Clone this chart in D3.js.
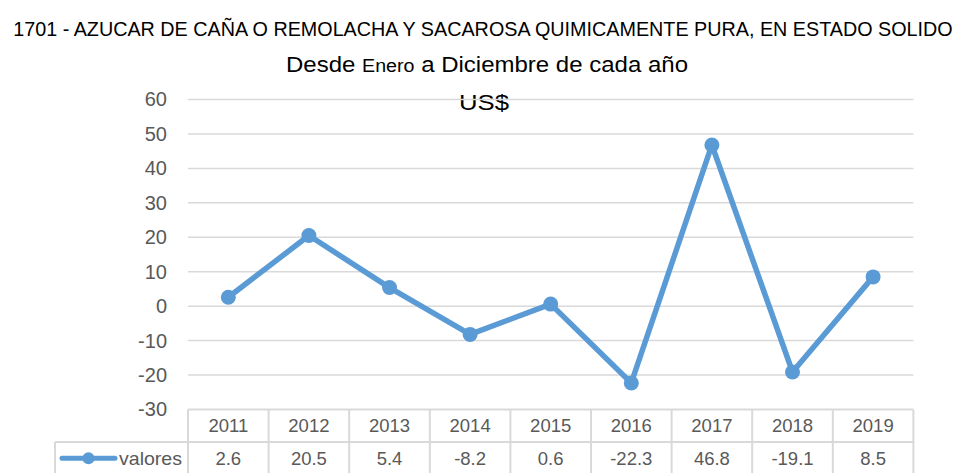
<html>
<head>
<meta charset="utf-8">
<title>1701 - AZUCAR</title>
<script src="https://d3js.org/d3.v7.min.js"></script>
<style>
	body { margin: 0; background: #fff; }
	svg text { font-family: "Liberation Sans", sans-serif; }
</style>
</head>
<body>
<div id="chart"></div>
<script>
const years = ["2011","2012","2013","2014","2015","2016","2017","2018","2019"];
const valores = [2.6, 20.5, 5.4, -8.2, 0.6, -22.3, 46.8, -19.1, 8.5];
const valueLabels = ["2.6","20.5","5.4","-8.2","0.6","-22.3","46.8","-19.1","8.5"];
const yTicks = [-30,-20,-10,0,10,20,30,40,50,60];
const seriesName = "valores";

const width = 964, height = 473;
const blue = "#5b9bd5", grid = "#d9d9d9", txt = "#595959";

const svg = d3.select("#chart").append("svg")
	.attr("width", width)
	.attr("height", height);

const x = d3.scaleBand().domain(years).range([188, 913.4]);
const y = d3.scaleLinear().domain([-30, 60]).range([409.5, 99.5]);

// titles
const title = svg.append("text")
	.attr("x", 483).attr("y", 36)
	.attr("text-anchor", "middle")
	.style("font-size", "21px").style("fill", "#000")
	.text("1701 - AZUCAR DE CAÑA O REMOLACHA Y SACAROSA QUIMICAMENTE PURA, EN ESTADO SOLIDO");
// shrink to fit inside the page width
const tw = title.node().getComputedTextLength();
if (tw > 940) title.style("font-size", (21 * 940 / tw).toFixed(2) + "px");

const sub = svg.append("text")
	.attr("x", 487).attr("y", 72)
	.attr("text-anchor", "middle")
	.attr("textLength", 402).attr("lengthAdjust", "spacingAndGlyphs")
	.style("font-size", "22px").style("fill", "#000");
sub.append("tspan").text("Desde ");
sub.append("tspan").style("font-size", "18px").text("Enero");
sub.append("tspan").text(" a Diciembre de cada año");

svg.append("text")
	.attr("x", 484).attr("y", 110)
	.attr("text-anchor", "middle")
	.attr("textLength", 50).attr("lengthAdjust", "spacingAndGlyphs")
	.style("font-size", "22px").style("fill", "#000")
	.text("US$");

// gridlines
svg.append("g").selectAll("line")
	.data(yTicks.filter(d => d > -30))
	.join("line")
	.attr("x1", 188).attr("x2", 913.4)
	.attr("y1", d => y(d)).attr("y2", d => y(d))
	.attr("stroke", grid).attr("stroke-width", 1.5);

// y axis labels
const yAxis = svg.append("g")
	.attr("transform", "translate(175,0)")
	.call(d3.axisLeft(y).tickValues(yTicks).tickFormat(d => String(d)).tickSize(0).tickPadding(8));
yAxis.select(".domain").remove();
yAxis.selectAll("text")
	.style("font-family", "\"Liberation Sans\", sans-serif")
	.style("font-size", "20px").style("fill", txt);

// line + markers
const line = d3.line()
	.x((d, i) => x(years[i]) + x.bandwidth() / 2)
	.y(d => y(d));

svg.append("path")
	.datum(valores)
	.attr("d", line)
	.attr("fill", "none")
	.attr("stroke", blue)
	.attr("stroke-width", 5.5)
	.attr("stroke-linejoin", "round");

svg.append("g").selectAll("circle")
	.data(valores)
	.join("circle")
	.attr("cx", (d, i) => x(years[i]) + x.bandwidth() / 2)
	.attr("cy", d => y(d))
	.attr("r", 7.5)
	.attr("fill", blue);

// data table
const rowTop = 409.5, rowH = 32.5, legendLeft = 55;
const table = svg.append("g");

table.append("line")
	.attr("x1", 188).attr("x2", 913.4).attr("y1", rowTop).attr("y2", rowTop)
	.attr("stroke", grid).attr("stroke-width", 2);
table.append("line")
	.attr("x1", legendLeft).attr("x2", 913.4).attr("y1", rowTop + rowH).attr("y2", rowTop + rowH)
	.attr("stroke", grid).attr("stroke-width", 2);
table.append("line")
	.attr("x1", legendLeft).attr("x2", legendLeft).attr("y1", rowTop + rowH).attr("y2", height)
	.attr("stroke", grid).attr("stroke-width", 2);

table.selectAll(".vline")
	.data(years.concat(["end"]))
	.join("line")
	.attr("class", "vline")
	.attr("x1", (d, i) => i < years.length ? x(d) : x.range()[1])
	.attr("x2", (d, i) => i < years.length ? x(d) : x.range()[1])
	.attr("y1", rowTop).attr("y2", height)
	.attr("stroke", grid).attr("stroke-width", 2);

table.selectAll(".yr")
	.data(years)
	.join("text")
	.attr("class", "yr")
	.attr("x", d => x(d) + x.bandwidth() / 2)
	.attr("y", rowTop + rowH / 2 + 6.5)
	.attr("text-anchor", "middle")
	.style("font-size", "18.5px").style("fill", txt)
	.text(d => d);

table.selectAll(".val")
	.data(valueLabels)
	.join("text")
	.attr("class", "val")
	.attr("x", (d, i) => x(years[i]) + x.bandwidth() / 2)
	.attr("y", rowTop + rowH * 1.5 + 6.5)
	.attr("text-anchor", "middle")
	.style("font-size", "18.5px").style("fill", txt)
	.text(d => d);

// legend key in table
const ly = rowTop + rowH * 1.5;
table.append("line")
	.attr("x1", 62).attr("x2", 115).attr("y1", ly).attr("y2", ly)
	.attr("stroke", blue).attr("stroke-width", 5).attr("stroke-linecap", "round");
table.append("circle")
	.attr("cx", 88.5).attr("cy", ly).attr("r", 6).attr("fill", blue);
table.append("text")
	.attr("x", 119).attr("y", ly + 6.5)
	.attr("textLength", 63).attr("lengthAdjust", "spacingAndGlyphs")
	.style("font-size", "18.5px").style("fill", txt)
	.text(seriesName);
</script>
</body>
</html>
